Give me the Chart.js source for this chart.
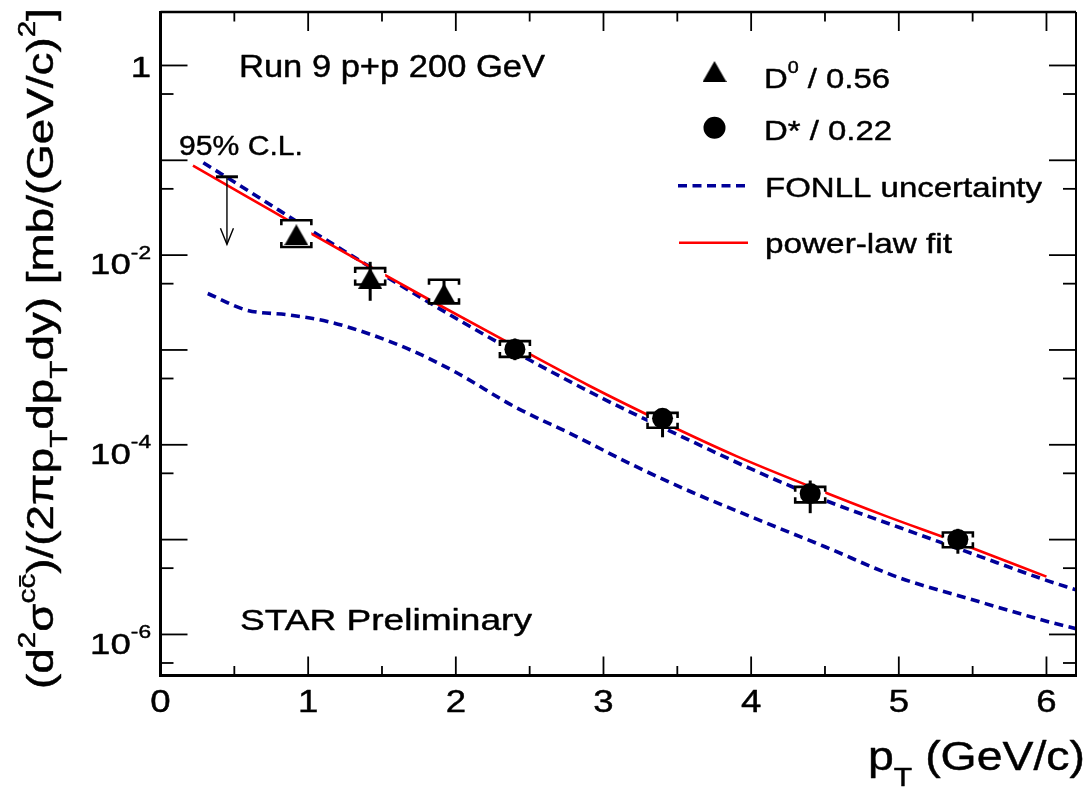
<!DOCTYPE html>
<html>
<head>
<meta charset="utf-8">
<script src="https://cdn.jsdelivr.net/npm/chart.js@4.4.1/dist/chart.umd.min.js"></script>
<style>
  html, body { margin: 0; padding: 0; background: #fff; }
  canvas { display: block; }
</style>
</head>
<body>
<canvas id="c" width="1088" height="788"></canvas>
<script>
// ---- D0 points (scaled by 1/0.56) ----
const d0Pt        = [0.92, 1.42, 1.92];
const d0Yield     = [1.64e-2, 5.7e-3, 3.9e-3];
const d0StatUp    = [3.0e-3, 2.8e-3, 1.6e-3];
const d0StatDown  = [3.0e-3, 2.4e-3, 0.7e-3];
const d0SysUp     = [6.9e-3, 1.6e-3, 1.6e-3];
const d0SysDown   = [4.2e-3, 0.8e-3, 0.8e-3];

// ---- D* points (scaled by 1/0.22) ----
const dstarPt       = [2.4, 3.4, 4.4, 5.4];
const dstarYield    = [1.02e-3, 1.9e-4, 3.06e-5, 1.0e-5];
const dstarStatUp   = [3.0e-4, 5.0e-5, 1.14e-5, 3.0e-6];
const dstarStatDown = [2.4e-4, 7.0e-5, 1.16e-5, 2.9e-6];
const dstarSysUp    = [2.2e-4, 2.7e-5, 5.4e-6, 1.9e-6];
const dstarSysDown  = [1.75e-4, 3.9e-5, 5.9e-6, 1.7e-6];

// ---- 95% C.L. upper limit ----
const limitPt       = [0.45];
const limitTop      = [0.067];
const limitArrowTip = [0.013];

// ---- FONLL band edges ----
const fonllUpperPt  = [0.29, 0.65, 1.0, 1.5, 2.0, 2.5, 3.0, 3.5, 4.0, 4.5, 5.0, 5.5, 6.0, 6.2];
const fonllUpperVal = [0.0944, 0.0421, 0.0190, 6.30e-3, 2.16e-3, 7.83e-4, 3.05e-4, 1.285e-4, 5.56e-5, 2.60e-5, 1.35e-5, 7.08e-6, 3.72e-6, 2.95e-6];
const fonllLowerPt  = [0.32, 0.58, 0.87, 1.13, 1.4, 1.7, 2.0, 2.4, 2.8, 3.2, 3.6, 4.0, 4.5, 5.0, 5.5, 6.0, 6.2];
const fonllLowerVal = [3.94e-3, 2.64e-3, 2.34e-3, 2.0e-3, 1.5e-3, 9.89e-4, 5.82e-4, 2.51e-4, 1.26e-4, 6.1e-5, 3.16e-5, 1.74e-5, 8.41e-6, 3.98e-6, 2.32e-6, 1.38e-6, 1.15e-6];

// ---- power-law fit ----
const fitPt  = [0.22, 0.6, 1.0, 1.36, 1.8, 2.4, 2.9, 3.4, 3.9, 4.4, 4.9, 5.4, 6.0];
const fitVal = [0.0879, 0.0402, 0.01762, 8.49e-3, 3.53e-3, 1.096e-3, 4.22e-4, 1.738e-4, 7.59e-5, 3.63e-5, 1.80e-5, 9.33e-6, 4.07e-6];

// ---- axis ticks ----
const xTickValues = [0, 1, 2, 3, 4, 5, 6];
const yLabelValues = [1, 1e-2, 1e-4, 1e-6];
const yLabelExps   = ['', '-2', '-4', '-6'];

const FONT = '"Liberation Sans", Arial, Helvetica, sans-serif';
const BLUE = '#000099';
const RED = '#ff0000';

const pairs = (xs, ys) => xs.map((x, i) => ({ x, y: ys[i] }));

// filled up-triangle marker, centred on its bounding box
function makeTriangle(w, h) {
  const c = document.createElement('canvas');
  c.width = w; c.height = h;
  const g = c.getContext('2d');
  g.fillStyle = '#000';
  g.beginPath();
  g.moveTo(0, h); g.lineTo(w / 2, 0); g.lineTo(w, h); g.closePath();
  g.fill();
  return c;
}
const triMarker = makeTriangle(24, 21);

// text with super/subscripts, optionally stretched along the baseline
function richText(ctx, parts, x, y, o) {
  const size = o.size;
  const k = o.scriptScale || 0.65;
  const segs = parts.map(p => {
    const s = typeof p === 'string' ? { t: p } : p;
    const fs = (s.sup || s.sub) ? size * k : size;
    ctx.font = fs + 'px ' + FONT;
    const w = ctx.measureText(s.t).width;
    const dy = s.sup ? -size * (o.supRaise || 0.5) : s.sub ? size * (o.subDrop || 0.38) : 0;
    return { t: s.t, fs, w, dy, bar: s.bar };
  });
  const total = segs.reduce((a, s) => a + s.w, 0);
  const sx = o.width ? o.width / total : (o.stretch || 1.2);
  ctx.save();
  ctx.translate(x, y);
  if (o.rotate) ctx.rotate(o.rotate);
  ctx.scale(sx, 1);
  let cx = o.align === 'right' ? -total : o.align === 'center' ? -total / 2 : 0;
  ctx.fillStyle = '#000';
  ctx.strokeStyle = '#000';
  ctx.lineWidth = o.weight === undefined ? 0.45 : o.weight;
  ctx.lineJoin = 'round';
  ctx.textAlign = 'left';
  ctx.textBaseline = 'alphabetic';
  for (const s of segs) {
    ctx.font = s.fs + 'px ' + FONT;
    ctx.fillText(s.t, cx, s.dy);
    if (ctx.lineWidth > 0) ctx.strokeText(s.t, cx, s.dy);
    if (s.bar) ctx.fillRect(cx + s.w * 0.12, s.dy - s.fs * 0.68, s.w * 0.76, Math.max(1.4, s.fs * 0.08));
    cx += s.w;
  }
  ctx.restore();
}

function seg(ctx, x1, y1, x2, y2) {
  ctx.beginPath(); ctx.moveTo(x1, y1); ctx.lineTo(x2, y2); ctx.stroke();
}

const errorTables = {
  d0:    { pt: d0Pt, v: d0Yield, su: d0StatUp, sd: d0StatDown, yu: d0SysUp, yd: d0SysDown },
  dstar: { pt: dstarPt, v: dstarYield, su: dstarStatUp, sd: dstarStatDown, yu: dstarSysUp, yd: dstarSysDown }
};

const whiteBackground = {
  id: 'whiteBackground',
  beforeDraw(chart) {
    const ctx = chart.ctx;
    ctx.save(); ctx.fillStyle = '#fff'; ctx.fillRect(0, 0, chart.width, chart.height); ctx.restore();
  }
};

// systematic brackets (white-filled boxes) and statistical bars under the markers
const errorBars = {
  id: 'errorBars',
  beforeDatasetDraw(chart, args) {
    const key = chart.data.datasets[args.index].errKey;
    if (!key) return;
    const t = errorTables[key];
    const xs = chart.scales.x, ys = chart.scales.y, ctx = chart.ctx;
    ctx.save();
    ctx.strokeStyle = '#000';
    t.pt.forEach((p, i) => {
      const px = xs.getPixelForValue(p);
      const top = ys.getPixelForValue(t.v[i] + t.yu[i]);
      const bot = ys.getPixelForValue(t.v[i] - t.yd[i]);
      const hw = 15, lip = 5;
      ctx.fillStyle = '#fff';
      ctx.fillRect(px - hw, top, 2 * hw, bot - top);
      ctx.lineWidth = 2.6;
      ctx.beginPath();
      ctx.moveTo(px - hw, top + lip); ctx.lineTo(px - hw, top); ctx.lineTo(px + hw, top); ctx.lineTo(px + hw, top + lip);
      ctx.moveTo(px - hw, bot - lip); ctx.lineTo(px - hw, bot); ctx.lineTo(px + hw, bot); ctx.lineTo(px + hw, bot - lip);
      ctx.stroke();
      ctx.lineWidth = 3;
      seg(ctx, px, ys.getPixelForValue(t.v[i] + t.su[i]), px, ys.getPixelForValue(t.v[i] - t.sd[i]));
    });
    ctx.restore();
  },
  afterDatasetsDraw(chart) {
    const xs = chart.scales.x, ys = chart.scales.y, ctx = chart.ctx;
    ctx.save();
    ctx.strokeStyle = '#000';
    limitPt.forEach((p, i) => {
      const px = xs.getPixelForValue(p);
      const top = ys.getPixelForValue(limitTop[i]);
      const tip = ys.getPixelForValue(limitArrowTip[i]);
      ctx.lineWidth = 1.4;
      seg(ctx, px, top, px, tip);
      ctx.beginPath();
      ctx.moveTo(px - 6.5, tip - 16); ctx.lineTo(px, tip); ctx.lineTo(px + 6.5, tip - 16);
      ctx.stroke();
      ctx.lineWidth = 3;
      seg(ctx, px - 11, top, px + 11, top);
    });
    ctx.restore();
  }
};

// frame with inward ticks, tick labels, axis titles, legend and captions
const frame = {
  id: 'frame',
  afterDraw(chart) {
    const ctx = chart.ctx, a = chart.chartArea;
    const xs = chart.scales.x, ys = chart.scales.y;
    ctx.save();
    ctx.strokeStyle = '#000';
    ctx.lineCap = 'butt';

    // x ticks (bottom and top)
    ctx.lineWidth = 1.8;
    for (let i = 0; i <= 12; i++) {
      const v = i / 2;
      if (v > xs.max) break;
      const px = xs.getPixelForValue(v);
      const L = i % 2 === 0 ? 19 : 9.5;
      seg(ctx, px, a.bottom, px, a.bottom - L);
      seg(ctx, px, a.top, px, a.top + L);
    }
    // y ticks (left and right): decades long, 5x10^n short
    for (let e = -7; e <= 1; e++) {
      [[Math.pow(10, e), 27], [5 * Math.pow(10, e), 13]].forEach(([v, L]) => {
        if (v < ys.min || v > ys.max) return;
        const py = ys.getPixelForValue(v);
        seg(ctx, a.left, py, a.left + L, py);
        seg(ctx, a.right, py, a.right - L, py);
      });
    }
    // frame
    ctx.lineWidth = 3;
    seg(ctx, a.left, a.top - 1, a.left, a.bottom + 1.5);
    seg(ctx, a.left - 1.5, a.bottom, a.right + 1, a.bottom);
    ctx.lineWidth = 2.5;
    seg(ctx, a.left, a.top, a.right, a.top);
    ctx.lineWidth = 2;
    seg(ctx, a.right, a.top, a.right, a.bottom);

    // x tick labels
    xTickValues.forEach(v => {
      richText(ctx, [String(v)], xs.getPixelForValue(v), 712, { size: 31, align: 'center', stretch: 1.18 });
    });
    // y tick labels
    yLabelValues.forEach((v, i) => {
      const py = ys.getPixelForValue(v);
      if (yLabelExps[i]) {
        richText(ctx, ['10', { t: yLabelExps[i], sup: true }], 151, py + 19.3,
          { size: 30, align: 'right', stretch: 1.22, scriptScale: 0.62, supRaise: 0.52 });
      } else {
        richText(ctx, ['1'], 151, py + 11.3, { size: 30, align: 'right', stretch: 1.22 });
      }
    });

    // axis titles
    richText(ctx, ['p', { t: 'T', sub: true }, ' (GeV/c)'], 868, 770, { size: 41, width: 217, subDrop: 0.38 });
    richText(ctx, ['(d', { t: '2', sup: true }, 'σ', { t: 'c', sup: true }, { t: 'c', sup: true, bar: true },
      ')/(2πp', { t: 'T', sub: true }, 'dp', { t: 'T', sub: true }, 'dy) [mb/(GeV/c)', { t: '2', sup: true }, ']'],
      53, 689, { size: 36, width: 681, rotate: -Math.PI / 2, subDrop: 0.38 });

    // captions
    richText(ctx, ['Run 9 p+p 200 GeV'], 239, 76.5, { size: 31, width: 306 });
    richText(ctx, ['STAR Preliminary'], 240, 630, { size: 30, width: 292 });
    richText(ctx, ['95% C.L.'], 179, 155, { size: 28, width: 124 });

    // legend
    const ds = chart.data.datasets;
    const hasDraw = Chart.helpers && Chart.helpers.drawPoint;
    ctx.fillStyle = '#000';
    if (hasDraw) {
      Chart.helpers.drawPoint(ctx, { pointStyle: ds[0].pointStyle, radius: 12, rotation: 0, borderWidth: 0 }, 714.5, 71.5);
      ctx.fillStyle = '#000';
      Chart.helpers.drawPoint(ctx, { pointStyle: 'circle', radius: 11, rotation: 0, borderWidth: 0 }, 714.5, 127.7);
    }
    richText(ctx, ['D', { t: '0', sup: true }, ' / 0.56'], 764, 88.3, { size: 28.5, width: 126, scriptScale: 0.6, supRaise: 0.53 });
    richText(ctx, ['D* / 0.22'], 764, 140, { size: 28.5, width: 128 });

    ctx.strokeStyle = ds[2].borderColor;
    ctx.lineWidth = ds[2].borderWidth;
    ctx.setLineDash(ds[2].borderDash);
    seg(ctx, 678, 185.7, 745, 185.7);
    ctx.setLineDash([]);
    richText(ctx, ['FONLL uncertainty'], 765, 196.7, { size: 28.5, width: 277 });

    ctx.strokeStyle = ds[4].borderColor;
    ctx.lineWidth = ds[4].borderWidth;
    seg(ctx, 679, 242.7, 748, 242.7);
    richText(ctx, ['power-law fit'], 765, 253.3, { size: 28.5, width: 187 });

    ctx.restore();
  }
};

new Chart(document.getElementById('c'), {
  type: 'scatter',
  data: {
    datasets: [
      { label: 'D0 / 0.56', errKey: 'd0', data: pairs(d0Pt, d0Yield), pointStyle: triMarker,
        pointRadius: 12, backgroundColor: '#000', borderWidth: 0, order: 0 },
      { label: 'D* / 0.22', errKey: 'dstar', data: pairs(dstarPt, dstarYield), pointStyle: 'circle',
        pointRadius: 10.5, backgroundColor: '#000', borderColor: '#000', borderWidth: 0, order: 0 },
      { label: 'FONLL uncertainty', data: pairs(fonllUpperPt, fonllUpperVal), showLine: true,
        borderColor: BLUE, borderWidth: 3.6, borderDash: [9, 5.5], pointRadius: 0,
        cubicInterpolationMode: 'monotone', order: 2 },
      { label: 'FONLL lower', data: pairs(fonllLowerPt, fonllLowerVal), showLine: true,
        borderColor: BLUE, borderWidth: 3.6, borderDash: [9, 5.5], pointRadius: 0,
        cubicInterpolationMode: 'monotone', order: 2 },
      { label: 'power-law fit', data: pairs(fitPt, fitVal), showLine: true,
        borderColor: RED, borderWidth: 2.6, pointRadius: 0,
        cubicInterpolationMode: 'monotone', order: 1 }
    ]
  },
  options: {
    responsive: false,
    animation: false,
    events: [],
    layout: { padding: { left: 160.5, right: 1, top: 9, bottom: 112.5 } },
    scales: {
      x: { type: 'linear', min: 0, max: 6.2, display: false },
      y: { type: 'logarithmic', min: 3.69e-7, max: 3.663, display: false }
    },
    plugins: { legend: { display: false }, tooltip: { enabled: false } }
  },
  plugins: [whiteBackground, errorBars, frame]
});
</script>
</body>
</html>
